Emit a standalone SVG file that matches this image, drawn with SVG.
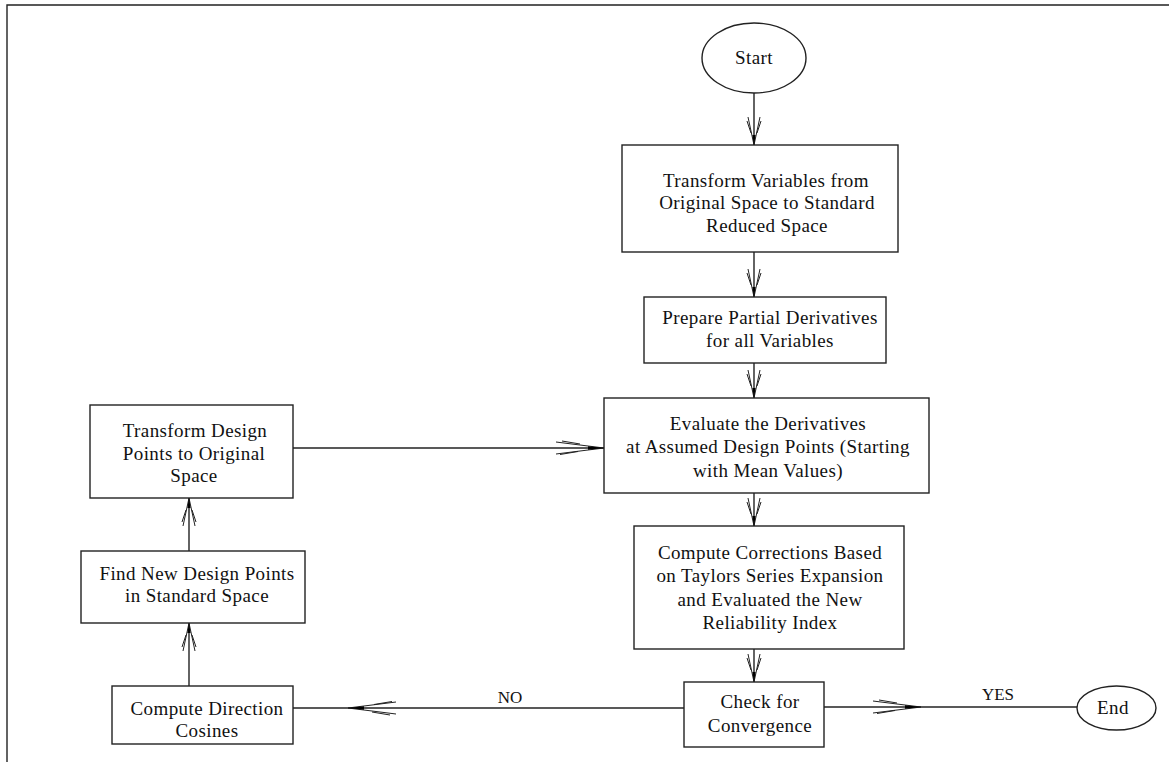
<svg xmlns="http://www.w3.org/2000/svg" width="1169" height="762" viewBox="0 0 1169 762">
<style>
.box{fill:#fff;stroke:#222;stroke-width:1.4}
.conn{fill:none;stroke:#222;stroke-width:1.4}
.t{font-family:"Liberation Serif","Times New Roman",serif;font-size:19px;fill:#111;text-anchor:middle;letter-spacing:0.4px}
.lbl{font-family:"Liberation Serif","Times New Roman",serif;font-size:17px;fill:#111;text-anchor:middle}
</style>
<defs>
<marker id="av" markerUnits="userSpaceOnUse" orient="auto" viewBox="-34 -10 36 20" markerWidth="36" markerHeight="20" refX="0" refY="0" overflow="visible">
<path d="M-28,-6 L0,0 M-28,6 L0,0 M-24,-7 L-12,-3 M-24,7 L-12,3" fill="none" stroke="#222" stroke-width="1"/>
<path d="M-10,-1.6 L0,0 L-10,1.6 Z" fill="#000"/>
</marker>
<marker id="ah" markerUnits="userSpaceOnUse" orient="auto" viewBox="-54 -10 56 20" markerWidth="56" markerHeight="20" refX="0" refY="0" overflow="visible">
<path d="M-48,-6 L0,0 M-48,6 L0,0 M-42,-7 L-24,-4 M-44,6.5 L-26,3.5" fill="none" stroke="#222" stroke-width="1"/>
<path d="M-16,-1.8 L0,0 L-16,1.8 Z" fill="#000"/>
</marker>
</defs>
<g id="frame">
<path d="M7,762 L7,5 L1169,5" fill="none" stroke="#222" stroke-width="1.4"/>
</g>
<g id="connectors">
<path class="conn" d="M754,93 L754,145" marker-end="url(#av)"/>
<path class="conn" d="M754,252 L754,297" marker-end="url(#av)"/>
<path class="conn" d="M754,363 L754,398" marker-end="url(#av)"/>
<path class="conn" d="M754,493 L754,526" marker-end="url(#av)"/>
<path class="conn" d="M754,649 L754,682" marker-end="url(#av)"/>
<path class="conn" d="M824,707 L921,707 L1077,707" marker-mid="url(#ah)"/>
<path class="conn" d="M684,708 L348,708 L293,708" marker-mid="url(#ah)"/>
<path class="conn" d="M293,448 L604,448" marker-end="url(#ah)"/>
<path class="conn" d="M189,551 L189,498" marker-end="url(#av)"/>
<path class="conn" d="M189,686 L189,623" marker-end="url(#av)"/>
<text class="lbl" x="998" y="700">YES</text>
<text class="lbl" x="510" y="703">NO</text>
</g>
<g id="start">
<ellipse class="box" cx="754" cy="58" rx="52" ry="35"/>
<text class="t" x="754" y="64">Start</text>
</g>
<g id="transform-vars">
<rect class="box" x="622" y="145" width="276" height="107"/>
<text class="t" x="766" y="187">Transform Variables from</text>
<text class="t" x="767" y="209">Original Space to Standard</text>
<text class="t" x="767" y="232">Reduced Space</text>
</g>
<g id="prepare">
<rect class="box" x="644" y="297" width="242" height="66"/>
<text class="t" x="770" y="324">Prepare Partial Derivatives</text>
<text class="t" x="770" y="347">for all Variables</text>
</g>
<g id="evaluate">
<rect class="box" x="604" y="398" width="325" height="95"/>
<text class="t" x="768" y="430">Evaluate the Derivatives</text>
<text class="t" x="768" y="453">at Assumed Design Points (Starting</text>
<text class="t" x="768" y="477">with Mean Values)</text>
</g>
<g id="corrections">
<rect class="box" x="634" y="526" width="270" height="123"/>
<text class="t" x="770" y="559">Compute Corrections Based</text>
<text class="t" x="770" y="582">on Taylors Series Expansion</text>
<text class="t" x="770" y="606">and Evaluated the New</text>
<text class="t" x="770" y="629">Reliability Index</text>
</g>
<g id="check">
<rect class="box" x="684" y="682" width="140" height="65"/>
<text class="t" x="760" y="708">Check for</text>
<text class="t" x="760" y="732">Convergence</text>
</g>
<g id="end">
<ellipse class="box" cx="1116.5" cy="708" rx="39.5" ry="22"/>
<text class="t" x="1113" y="714">End</text>
</g>
<g id="transform-design">
<rect class="box" x="90" y="405" width="203" height="93"/>
<text class="t" x="195" y="437">Transform Design</text>
<text class="t" x="194" y="460">Points to Original</text>
<text class="t" x="194" y="482">Space</text>
</g>
<g id="find-new">
<rect class="box" x="81" y="551" width="224" height="72"/>
<text class="t" x="197" y="580">Find New Design Points</text>
<text class="t" x="197" y="602">in Standard Space</text>
</g>
<g id="direction">
<rect class="box" x="112" y="686" width="181" height="58"/>
<text class="t" x="207" y="715">Compute Direction</text>
<text class="t" x="207" y="737">Cosines</text>
</g>
</svg>
